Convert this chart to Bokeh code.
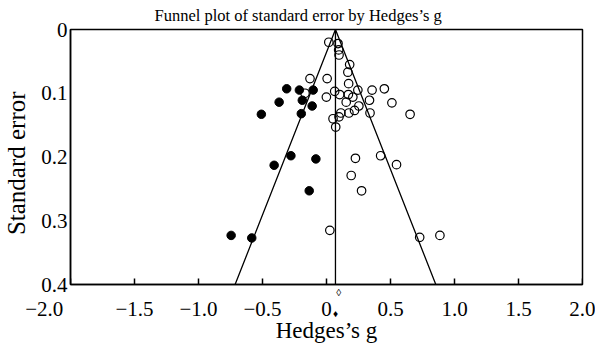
from bokeh.plotting import figure
from bokeh.models import Range1d, FixedTicker, LinearAxis
from bokeh.embed import file_html
from bokeh.resources import INLINE

# Observed studies (Hedges's g, standard error)
observed_g = [0.018, 0.090, 0.095, 0.098, 0.181, 0.167, -0.129, 0.005, 0.173, -0.168,
              0.064, -0.001, 0.103, 0.171, 0.206, 0.245, 0.356, 0.452, 0.154, 0.336,
              0.511, 0.253, 0.219, 0.175, 0.112, 0.098, 0.340, 0.653, 0.051, 0.072,
              0.226, 0.423, 0.193, 0.274, 0.026, 0.547, 0.728, 0.886]
observed_se = [0.020, 0.022, 0.032, 0.040, 0.055, 0.067, 0.077, 0.077, 0.085, 0.100,
               0.097, 0.106, 0.102, 0.102, 0.106, 0.095, 0.095, 0.093, 0.114, 0.111,
               0.115, 0.120, 0.127, 0.131, 0.131, 0.137, 0.131, 0.133, 0.140, 0.153,
               0.202, 0.198, 0.229, 0.253, 0.315, 0.212, 0.326, 0.323]

# Imputed studies (trim and fill)
imputed_g = [-0.311, -0.212, -0.104, -0.370, -0.189, -0.112, -0.197, -0.509, -0.278,
             -0.083, -0.409, -0.135, -0.745, -0.584]
imputed_se = [0.093, 0.095, 0.095, 0.114, 0.111, 0.120, 0.132, 0.133, 0.198, 0.203,
              0.213, 0.253, 0.323, 0.327]

adjusted_effect = 0.07
observed_effect = 0.095
se_max = 0.4
z_value = 1.96

NB = "\u00a0"
x_ticks = [-2.0, -1.5, -1.0, -0.5, 0.0, 0.5, 1.0, 1.5, 2.0]
x_tick_labels = ["\u22122.0" + NB * 10, "\u22121.5", "\u22121.0", "\u22120.5", "0", "0.5", "1.0", "1.5", "2.0"]
y_ticks = [0.0, 0.1, 0.2, 0.3, 0.4]
y_tick_labels = ["0", "0.1", "0.2", "0.3", "0.4"]

FONT = "Liberation Serif"

p = figure(width=595, height=351, output_backend="svg", toolbar_location=None,
           x_range=Range1d(-2.0, 2.0), y_range=Range1d(se_max, 0.0),
           min_border_left=65, min_border_right=13, min_border_top=29, min_border_bottom=67,
           title="Funnel plot of standard error by Hedges\u2019s g")

p.title.text_font = FONT
p.title.text_font_size = "16.5px"
p.title.text_font_style = "normal"
p.title.text_color = "black"
p.title.align = "left"
p.title.offset = 84
p.title.vertical_align = "top"
p.title.standoff = 6

p.xgrid.grid_line_color = None
p.ygrid.grid_line_color = None
p.outline_line_color = "black"
p.outline_line_width = 1.5
p.background_fill_color = "white"
p.border_fill_color = "white"


def bare_axis(axis):
    axis.major_tick_in = 0
    axis.major_tick_out = 0
    axis.minor_tick_in = 0
    axis.minor_tick_out = 0
    axis.major_label_text_font = FONT
    axis.major_label_text_color = "black"
    axis.axis_label_text_font = FONT
    axis.axis_label_text_color = "black"
    axis.axis_label_text_font_style = "normal"


# Innermost bottom axis (the figure's own): axis line
xa = p.xaxis[0]
bare_axis(xa)
xa.ticker = FixedTicker(ticks=x_ticks)
xa.axis_line_color = "black"
xa.axis_line_width = 1.5
xa.major_label_overrides = {t: "" for t in x_ticks}
xa.major_label_text_font_size = "1px"
xa.major_label_standoff = 0

# Open diamond (observed summary effect)
ax_open = LinearAxis(ticker=FixedTicker(ticks=[observed_effect]))
bare_axis(ax_open)
ax_open.axis_line_color = None
ax_open.major_label_overrides = {observed_effect: "\u25ca"}
ax_open.major_label_text_font_size = "10px"
ax_open.major_label_standoff = 2

# Filled diamond (adjusted summary effect)
ax_fill = LinearAxis(ticker=FixedTicker(ticks=[adjusted_effect]))
bare_axis(ax_fill)
ax_fill.axis_line_color = None
ax_fill.major_label_overrides = {adjusted_effect: "\u2666"}
ax_fill.major_label_text_font_size = "10px"
ax_fill.major_label_standoff = 7

# Tick labels and axis title
ax_lab = LinearAxis(ticker=FixedTicker(ticks=x_ticks))
bare_axis(ax_lab)
ax_lab.major_label_overrides = dict(zip(x_ticks, x_tick_labels))
ax_lab.axis_line_color = None
ax_lab.major_label_standoff = -25
ax_lab.major_label_text_font_size = "21px"
ax_lab.axis_label = "Hedges\u2019s g"
ax_lab.axis_label_text_font_size = "23px"
ax_lab.axis_label_standoff = -6

p.below = [xa, ax_open, ax_fill, ax_lab]

ya = p.yaxis[0]
bare_axis(ya)
ya.ticker = FixedTicker(ticks=y_ticks)
ya.major_label_overrides = dict(zip(y_ticks, y_tick_labels))
ya.axis_line_width = 1.5
ya.axis_line_color = "black"
ya.major_label_standoff = 3
ya.major_label_text_font_size = "21px"
ya.axis_label = "Standard error" + NB * 2
ya.axis_label_text_font_size = "25px"
ya.axis_label_standoff = 8

# Inward tick marks on the bottom axis (about 6 px tall, inside the frame)
tick_len = se_max * 6.0 / 255.0
p.segment(x0=x_ticks, y0=[se_max] * len(x_ticks), x1=x_ticks,
          y1=[se_max - tick_len] * len(x_ticks), line_color="black", line_width=1.5)

# Funnel (95% pseudo-confidence limits) and effect line
p.line([adjusted_effect - z_value * se_max, adjusted_effect, adjusted_effect + z_value * se_max],
       [se_max, 0.0, se_max], line_color="black", line_width=1.3)
p.line([adjusted_effect, adjusted_effect], [0.0, se_max], line_color="black", line_width=1.3)

# Studies
p.scatter(observed_g, observed_se, marker="circle", size=8.5, fill_color=None,
          line_color="black", line_width=1.2)
p.scatter(imputed_g, imputed_se, marker="circle", size=8.5, fill_color="black",
          line_color="black", line_width=1.0)

open("out.html", "w").write(file_html(p, INLINE))
